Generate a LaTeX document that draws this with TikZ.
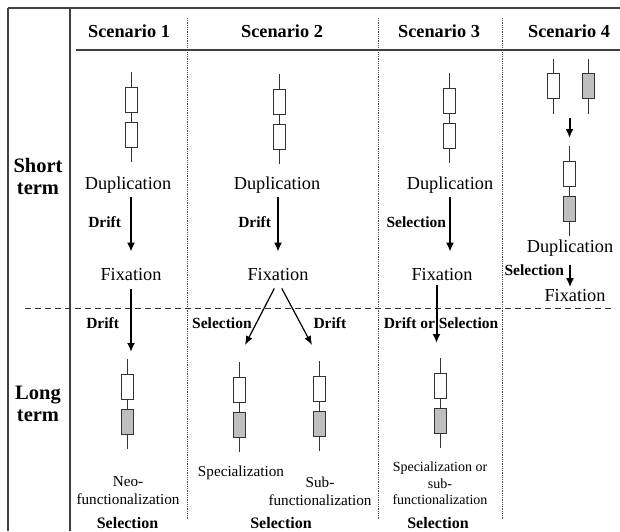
\documentclass[tikz,border=0pt]{standalone}
\usepackage{fontspec}
\setmainfont{Liberation Serif}
\usetikzlibrary{arrows.meta,positioning}
\tikzstyle{genebox} = [rectangle, draw=black!80, line width=1pt, fill=white, minimum width=12pt, minimum height=25pt, inner sep=0pt, outer sep=0pt]
\tikzstyle{genegray} = [genebox, fill=black!25]
\tikzstyle{stub} = [draw=black!80, line width=1pt]
\tikzstyle{arrow} = [line width=2pt, ->, >={Latex[length=9pt,width=8pt]}]
\tikzstyle{thinarrow} = [line width=1.2pt, ->, >={Latex[length=9pt,width=7pt]}]
\tikzstyle{frameline} = [draw=black!75, line width=1.4pt]
\tikzstyle{colsep} = [draw=black!70, line width=0.8pt, densely dotted]
\tikzstyle{termsep} = [draw=black!80, line width=1pt, dash pattern=on 6pt off 4pt]
\tikzstyle{head} = [font=\fontsize{18.3}{22}\selectfont\bfseries, inner sep=0pt]
\tikzstyle{termlabel} = [font=\fontsize{20.5}{22}\selectfont\bfseries, align=center, inner sep=0pt]
\tikzstyle{event} = [font=\fontsize{18.3}{22}\selectfont, inner sep=0pt]
\tikzstyle{forcelabel} = [font=\fontsize{15.5}{18}\selectfont\bfseries, inner sep=0pt]
\tikzstyle{outcome} = [font=\fontsize{15.2}{18}\selectfont, align=center, inner sep=0pt]
\tikzstyle{smalloutcome} = [font=\fontsize{14}{16.5}\selectfont, align=center, inner sep=0pt]
\tikzstyle{verdict} = [font=\fontsize{16}{20}\selectfont\bfseries, inner sep=0pt]
\newcommand{\genepair}[4]{%
        \node (#1a) [#3] at (#2) {};
        \node (#1b) [#4, below=10pt of #1a] {};
        \draw [stub] (#1a.north) -- ++(0,-15);
        \draw [stub] (#1a.south) -- (#1b.north);
        \draw [stub] (#1b.south) -- ++(0,15);
}
\newcommand{\genesingle}[3]{%
        \node (#1) [#3] at (#2) {};
        \draw [stub] (#1.north) -- ++(0,-15);
        \draw [stub] (#1.south) -- ++(0,15);
}
\begin{document}
\begin{tikzpicture}[x=1pt, y=-1pt]
        \useasboundingbox (0,0) rectangle (620,531);
        \draw [frameline] (8,8) -- (620,8);
        \draw [frameline] (8,8) -- (8,531);
        \draw [frameline] (70,8) -- (70,531);
        \draw [frameline] (76,50) -- (620,50);
        \draw [colsep] (187,18) -- (187,520);
        \draw [colsep] (378,18) -- (378,520);
        \draw [colsep] (502,18) -- (502,520);
        \draw [termsep] (25,308) -- (613,308);

        \node (sc1) [head] at (129,31) {Scenario 1};
        \node (sc2) [head] at (282,31) {Scenario 2};
        \node (sc3) [head] at (439,31) {Scenario 3};
        \node (sc4) [head] at (569,31) {Scenario 4};
        \node (short) [termlabel] at (38,176) {Short\\term};
        \node (long) [termlabel] at (38,404) {Long\\term};

        \genepair{g1}{131,99.5}{genebox}{genebox}
        \genepair{g2}{279.5,101.5}{genebox}{genebox}
        \genepair{g3}{449,100.5}{genebox}{genebox}
        \genesingle{g4l}{553,86}{genebox}
        \genesingle{g4r}{588,86}{genegray}
        \genepair{g4}{569.5,173.5}{genebox}{genegray}
        \genepair{h1}{127.5,386.5}{genebox}{genegray}
        \genepair{h2l}{239.5,389.5}{genebox}{genegray}
        \genepair{h2r}{319.5,388.5}{genebox}{genegray}
        \genepair{h3}{440,385.5}{genebox}{genegray}

        \node (dup1) [event] at (128,185) {Duplication};
        \node (dup2) [event] at (277,185) {Duplication};
        \node (dup3) [event] at (450,185) {Duplication};
        \node (dup4) [event] at (570,248) {Duplication};
        \node (fix1) [event] at (131,275) {Fixation};
        \node (fix2) [event] at (278,275) {Fixation};
        \node (fix3) [event] at (442,275) {Fixation};
        \node (fix4) [event] at (575,296) {Fixation};
        \coordinate (tip2l) at (245,345);
        \coordinate (tip2r) at (312,345);
        \coordinate (land3) at ([xshift=-3.5pt]h3a.north);
        \node (dos3) [forcelabel] at (441,323) {Drift or Selection};

        \draw [arrow, shorten <=3pt, shorten >=17pt] (fix1.north |- dup1.south) -- node (dr1) [forcelabel, pos=0.38, left=9pt] {Drift} (fix1.north);
        \draw [arrow, shorten <=3pt, shorten >=17pt] (fix2.north |- dup2.south) -- node (dr2) [forcelabel, pos=0.38, left=6pt] {Drift} (fix2.north);
        \draw [arrow, shorten <=3pt, shorten >=17pt] (dup3.south) -- node (sl3) [forcelabel, pos=0.38, left=3pt] {Selection} (dup3.south |- fix3.north);
        \draw [arrow, shorten <=19.5pt, shorten >=23pt] (g4a.north |- g4l.south) -- (g4a.north);
        \draw [arrow, shorten <=8pt, shorten >=2.5pt] (dup4.south) -- node (sl4) [forcelabel, pos=0.41, left=5pt] {Selection} (dup4.south |- fix4.north);
        \draw [arrow, shorten <=8pt, shorten >=22pt] (fix1.south) -- node (dr1b) [forcelabel, pos=0.45, left=11pt] {Drift} (fix1.south |- h1a.north);
        \draw [thinarrow, shorten <=8pt] (fix2.south) -- node (sl2) [forcelabel, pos=0.66, left=4pt] {Selection} (tip2l);
        \draw [thinarrow, shorten <=8pt] (fix2.south) -- node (dr2b) [forcelabel, pos=0.66, right=12.5pt] {Drift} (tip2r);
        \draw [arrow, shorten <=4pt, shorten >=30pt] (land3 |- fix3.south) -- (land3);

        \node (neo1) [outcome] at (128,491) {Neo-\\functionalization};
        \node (spec2) [outcome] at (241,472.5) {Specialization};
        \node (sub2) [outcome] at (320,491) {Sub-\\functionalization};
        \node (spec3) [smalloutcome] at (440,483.5) {Specialization or\\sub-\\functionalization};
        \node (sel1) [verdict] at (127.5,523) {Selection};
        \node (sel2) [verdict] at (281,523) {Selection};
        \node (sel3) [verdict] at (438,523) {Selection};
\end{tikzpicture}
\end{document}
